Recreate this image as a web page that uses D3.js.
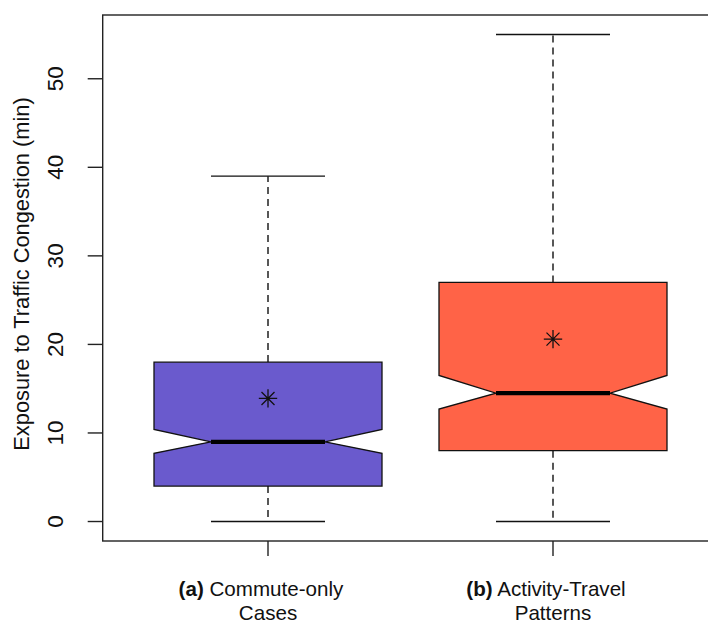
<!DOCTYPE html>
<html>
<head>
<meta charset="utf-8">
<script src="https://cdn.jsdelivr.net/npm/d3@7"></script>
<style>
  html, body { margin: 0; padding: 0; background: #fff; }
  svg { display: block; font-family: "Liberation Sans", Arial, sans-serif; }
</style>
</head>
<body>
<svg id="chart" width="708" height="621"></svg>
<script>
// Group labels (bold prefix, first line, second line)
const labelPrefix = ["(a)", "(b)"];
const labelLine1 = ["Commute-only", "Activity-Travel"];
const labelLine2 = ["Cases", "Patterns"];

// Box statistics per group (minutes)
const whiskerLow  = [0, 0];
const q1          = [4, 8];
const median      = [9, 14.5];
const q3          = [18, 27];
const whiskerHigh = [39, 55];
const notchLow    = [7.7, 12.7];
const notchHigh   = [10.4, 16.5];
const meanValue   = [13.9, 20.6];

const fills = ["#6A5ACD", "#FF6347"];
const yTicks = [0, 10, 20, 30, 40, 50];
const yTitle = "Exposure to Traffic Congestion (min)";

const svg = d3.select("#chart");

// Scales: group positions 1..n, with padded extents
const x = d3.scaleLinear().domain([1, 2]).range([268, 553]);
const y = d3.scaleLinear().domain([-2.2, 57.2]).range([541, 15]);

const unit = x(2) - x(1);
const halfBox = 0.4 * unit;
const halfNotch = halfBox / 2;
const halfStaple = halfBox / 2;

const groups = d3.range(labelPrefix.length).map(i => ({
  pos: i + 1,
  prefix: labelPrefix[i], l1: labelLine1[i], l2: labelLine2[i],
  lo: whiskerLow[i], q1: q1[i], med: median[i], q3: q3[i], hi: whiskerHigh[i],
  nlo: notchLow[i], nhi: notchHigh[i], mean: meanValue[i], fill: fills[i]
}));

// Plot frame
const xLeft = x(0.42), xRight = x(2.58);
svg.append("rect")
  .attr("x", xLeft).attr("y", y(57.2))
  .attr("width", xRight - xLeft).attr("height", y(-2.2) - y(57.2))
  .attr("fill", "none").attr("stroke", "#222").attr("stroke-width", 1.4);

// Y axis
const yAxis = svg.append("g");
yAxis.selectAll("line").data(yTicks).join("line")
  .attr("x1", xLeft - 15).attr("x2", xLeft)
  .attr("y1", d => y(d)).attr("y2", d => y(d))
  .attr("stroke", "#222").attr("stroke-width", 1.4);
yAxis.selectAll("text").data(yTicks).join("text")
  .attr("transform", d => `translate(55,${y(d)}) rotate(-90)`)
  .attr("text-anchor", "middle").attr("dominant-baseline", "central")
  .attr("font-size", 22.5).attr("fill", "#111")
  .text(d => d);

svg.append("text")
  .attr("transform", `translate(21,${(y(-2.2) + y(57.2)) / 2 - 4}) rotate(-90)`)
  .attr("text-anchor", "middle").attr("dominant-baseline", "central")
  .attr("font-size", 21.8).attr("fill", "#111")
  .text(yTitle);

// X axis ticks and labels
const xAxis = svg.append("g");
xAxis.selectAll("line").data(groups).join("line")
  .attr("x1", d => x(d.pos)).attr("x2", d => x(d.pos))
  .attr("y1", y(-2.2)).attr("y2", y(-2.2) + 15)
  .attr("stroke", "#222").attr("stroke-width", 1.4);
const lab = xAxis.selectAll("g.lab").data(groups).join("g").attr("class", "lab");
const t1 = lab.append("text")
  .attr("x", d => x(d.pos) - 7).attr("y", 596)
  .attr("text-anchor", "middle").attr("font-size", 20.6).attr("fill", "#111");
t1.append("tspan").attr("font-weight", "bold").text(d => d.prefix);
t1.append("tspan").text(d => " " + d.l1);
lab.append("text")
  .attr("x", d => x(d.pos)).attr("y", 619.5)
  .attr("text-anchor", "middle").attr("font-size", 20.6).attr("fill", "#111")
  .text(d => d.l2);

// Boxes
const box = svg.selectAll("g.box").data(groups).join("g").attr("class", "box");

// Whiskers (dashed) and staples
box.append("line")
  .attr("x1", d => x(d.pos)).attr("x2", d => x(d.pos))
  .attr("y1", d => y(d.q3)).attr("y2", d => y(d.hi))
  .attr("stroke", "#111").attr("stroke-width", 1.4).attr("stroke-dasharray", "7,5");
box.append("line")
  .attr("x1", d => x(d.pos)).attr("x2", d => x(d.pos))
  .attr("y1", d => y(d.q1)).attr("y2", d => y(d.lo))
  .attr("stroke", "#111").attr("stroke-width", 1.4).attr("stroke-dasharray", "7,5");
["hi", "lo"].forEach(k => {
  box.append("line")
    .attr("x1", d => x(d.pos) - halfStaple).attr("x2", d => x(d.pos) + halfStaple)
    .attr("y1", d => y(d[k])).attr("y2", d => y(d[k]))
    .attr("stroke", "#111").attr("stroke-width", 1.4);
});

// Notched box outline
box.append("path")
  .attr("d", d => {
    const c = x(d.pos), L = c - halfBox, R = c + halfBox;
    const pts = [
      [L, y(d.q1)], [L, y(d.nlo)], [c - halfNotch, y(d.med)], [L, y(d.nhi)], [L, y(d.q3)],
      [R, y(d.q3)], [R, y(d.nhi)], [c + halfNotch, y(d.med)], [R, y(d.nlo)], [R, y(d.q1)]
    ];
    return d3.line()(pts) + "Z";
  })
  .attr("fill", d => d.fill).attr("stroke", "#111").attr("stroke-width", 1.3)
  .attr("stroke-linejoin", "miter");

// Median
box.append("line")
  .attr("x1", d => x(d.pos) - halfNotch).attr("x2", d => x(d.pos) + halfNotch)
  .attr("y1", d => y(d.med)).attr("y2", d => y(d.med))
  .attr("stroke", "#000").attr("stroke-width", 4.2);

// Mean marker (asterisk)
const r = 6.5, rp = r * Math.SQRT2;
box.append("path")
  .attr("d", d => {
    const cx = x(d.pos), cy = y(d.mean);
    return `M${cx - r},${cy - r}L${cx + r},${cy + r}M${cx - r},${cy + r}L${cx + r},${cy - r}` +
           `M${cx - rp},${cy}L${cx + rp},${cy}M${cx},${cy - rp}L${cx},${cy + rp}`;
  })
  .attr("stroke", "#111").attr("stroke-width", 1.3).attr("fill", "none");
</script>
</body>
</html>
